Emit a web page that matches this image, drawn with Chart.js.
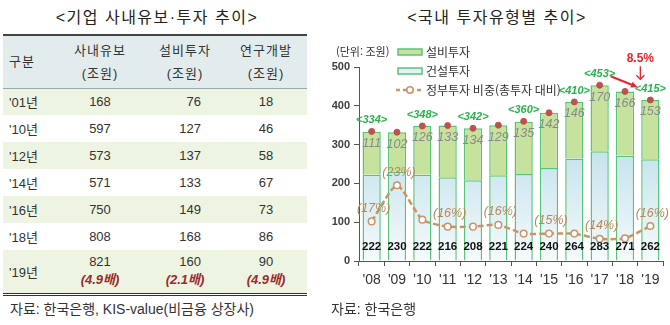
<!DOCTYPE html>
<html lang="ko">
<head>
<meta charset="utf-8">
<script src="https://cdn.jsdelivr.net/npm/chart.js@4.4.1/dist/chart.umd.min.js"></script>
<style>
  body { margin:0; width:670px; height:325px; background:#fff; position:relative; overflow:hidden;
         font-family:"Liberation Sans","Noto Sans CJK KR",sans-serif; color:#333; }
  .title { position:absolute; top:4px; font-size:16px; letter-spacing:1.5px; color:#222; text-align:center; white-space:nowrap; }
  .src { position:absolute; top:298px; font-size:14px; color:#333; white-space:nowrap; }
  #tbl { position:absolute; left:3px; top:34px; width:304px; border-collapse:collapse; font-size:13px; color:#333;
         border-top:2px solid #444; border-bottom:3px double #333; table-layout:fixed; }
  #tbl td { padding:0; text-align:center; }
  #tbl td.yr { text-align:left; padding-left:6px; }
  #tbl tr { height:27px; }
  #tbl tr.hd { height:53px; background:#e3ecec; border-bottom:1px solid #9aa; }
  #tbl tr.hd td { line-height:23px; letter-spacing:1px; }
  #tbl tr.g { background:#eef4e2; }
  #tbl tr.last { height:44px; }
  #tbl td.r { text-align:right; padding-right:24px; }
  .mult { color:#9e2a2e; font-weight:bold; font-style:italic; display:block; text-align:center; }
  #wrap { position:absolute; left:330px; top:30px; width:340px; height:275px; }
</style>
</head>
<body>
<div class="title" style="left:0; width:314px;">&lt;기업 사내유보·투자 추이&gt;</div>
<div class="title" style="left:330px; width:334px;">&lt;국내 투자유형별 추이&gt;</div>

<table id="tbl">
  <colgroup><col style="width:52px"><col style="width:90px"><col style="width:80px"><col style="width:82px"></colgroup>
  <tbody id="tbody"></tbody>
</table>
<div class="src" style="left:10px;">자료: 한국은행, KIS-value(비금융 상장사)</div>

<div id="wrap"><canvas id="chart" width="340" height="275"></canvas></div>
<div class="src" style="left:331px;">자료: 한국은행</div>

<script>
// left table data
const tableYears = ["'01년", "'10년", "'12년", "'14년", "'16년", "'18년", "'19년"];
const retained = [168, 597, 573, 571, 750, 808, 821];
const facilityInv = [76, 127, 137, 133, 149, 168, 160];
const rnd = [18, 46, 58, 67, 73, 86, 90];
const growth = ["(4.9배)", "(2.1배)", "(4.9배)"];

// right chart data
const years = ["'08", "'09", "'10", "'11", "'12", "'13", "'14", "'15", "'16", "'17", "'18", "'19"];
const construction = [222, 230, 222, 216, 208, 221, 224, 240, 264, 283, 271, 262];
const equipment = [111, 102, 126, 133, 134, 129, 135, 142, 146, 170, 166, 153];
const totals = [334, 332, 348, 349, 342, 350, 360, 382, 410, 453, 437, 415];
const totalShown = [true, false, true, false, true, false, true, false, true, true, false, true];
const govShare = [17.0, 23.2, 17.3, 16.1, 16.1, 16.4, 14.9, 14.9, 14.9, 14.0, 14.1, 16.2];
const govShown = [true, true, false, true, false, true, false, true, false, true, false, true];

// build table rows
const tbody = document.getElementById('tbody');
let html = '<tr class="hd"><td class="yr">구분</td><td>사내유보<br>(조원)</td><td>설비투자<br>(조원)</td><td>연구개발<br>(조원)</td></tr>';
tableYears.forEach((y, i) => {
  const cls = (i % 2 === 0 ? 'g' : '') + (i === tableYears.length - 1 ? ' last' : '');
  if (i === tableYears.length - 1) {
    html += `<tr class="${cls}"><td class="yr">${y}</td>` +
      `<td>${retained[i]}<span class="mult">${growth[0]}</span></td>` +
      `<td><span style="display:block;text-align:right;padding-right:24px">${facilityInv[i]}</span><span class="mult">${growth[1]}</span></td>` +
      `<td>${rnd[i]}<span class="mult">${growth[2]}</span></td></tr>`;
  } else {
    html += `<tr class="${cls}"><td class="yr">${y}</td><td>${retained[i]}</td><td class="r">${facilityInv[i]}</td><td>${rnd[i]}</td></tr>`;
  }
});
tbody.innerHTML = html;

const GREEN_EDGE = '#58c47a';
const TAN = '#c8956a';
const RED = '#e8262a';

// labels on bars and points
const labelPlugin = {
  id: 'barLabels',
  afterDatasetsDraw(chart) {
    const ctx = chart.ctx;
    const xs = chart.scales.x, ys = chart.scales.y;
    const govMeta = chart.getDatasetMeta(3);
    ctx.save();
    ctx.textAlign = 'center';
    ctx.textBaseline = 'middle';
    years.forEach((yr, i) => {
      const cx = xs.getPixelForValue(i);
      const top = ys.getPixelForValue(totals[i]);
      ctx.font = 'bold 11.5px "Liberation Sans"';
      ctx.fillStyle = '#111';
      ctx.fillText(construction[i], cx, ys.bottom - 14);
      ctx.font = 'italic 12.5px "Liberation Sans"';
      ctx.fillStyle = '#8a8a8a';
      ctx.fillText(equipment[i], cx, top + 12);
      if (totalShown[i]) {
        ctx.font = 'bold italic 11px "Liberation Sans"';
        ctx.fillStyle = '#27b34a';
        ctx.fillText('<' + totals[i] + '>', cx, top - 11);
      }
      if (govShown[i]) {
        const p = govMeta.data[i];
        ctx.font = 'italic 12.5px "Liberation Sans"';
        ctx.fillStyle = '#b8885a';
        ctx.fillText('(' + Math.round(govShare[i]) + '%)', p.x + 2, p.y - 13);
      }
    });
    ctx.restore();
  },
  afterDraw(chart) {
    const ctx = chart.ctx;
    const xs = chart.scales.x, ys = chart.scales.y;
    const ds = chart.data.datasets;
    ctx.save();
    // unit + legend
    ctx.textBaseline = 'middle';
    ctx.textAlign = 'left';
    ctx.fillStyle = '#333';
    ctx.font = '11px "Noto Sans CJK KR"';
    ctx.fillText('(단위: 조원)', 6, 22);
    ctx.font = '12px "Noto Sans CJK KR"';
    ctx.lineWidth = 1.5;
    ctx.strokeStyle = GREEN_EDGE;
    ctx.fillStyle = '#c6e29c';
    ctx.fillRect(68, 19, 24, 6); ctx.strokeRect(68, 19, 24, 6);
    ctx.fillStyle = '#e6f3f7';
    ctx.fillRect(68, 38, 24, 6); ctx.strokeRect(68, 38, 24, 6);
    ctx.strokeStyle = TAN; ctx.lineWidth = 2.5; ctx.setLineDash([4, 3]);
    ctx.beginPath(); ctx.moveTo(66, 60); ctx.lineTo(94, 60); ctx.stroke();
    ctx.setLineDash([]);
    ctx.lineWidth = 1.5; ctx.fillStyle = '#fff';
    ctx.beginPath(); ctx.arc(80, 60, 3.2, 0, Math.PI * 2); ctx.fill(); ctx.stroke();
    ctx.fillStyle = '#333';
    ctx.fillText(ds[1].label, 96, 22);
    ctx.fillText(ds[0].label, 96, 41);
    ctx.fillText(ds[3].label, 96, 60);

    // 8.5% annotation
    const x17 = xs.getPixelForValue(9), x19 = xs.getPixelForValue(11);
    const y17 = ys.getPixelForValue(totals[9]), y19 = ys.getPixelForValue(totals[11]);
    ctx.fillStyle = RED; ctx.strokeStyle = RED;
    ctx.font = 'bold 12px "Liberation Sans"';
    ctx.textAlign = 'center';
    ctx.fillText('8.5%', x19 - 10, y17 - 27);
    const arrow = (x1, y1, x2, y2) => {
      const a = Math.atan2(y2 - y1, x2 - x1);
      ctx.lineWidth = 2;
      ctx.beginPath(); ctx.moveTo(x1, y1); ctx.lineTo(x2 - 4 * Math.cos(a), y2 - 4 * Math.sin(a)); ctx.stroke();
      ctx.beginPath();
      ctx.moveTo(x2, y2);
      ctx.lineTo(x2 - 7 * Math.cos(a - 0.45), y2 - 7 * Math.sin(a - 0.45));
      ctx.lineTo(x2 - 7 * Math.cos(a + 0.45), y2 - 7 * Math.sin(a + 0.45));
      ctx.closePath(); ctx.fill();
    };
    arrow(x17 + 11, y17 - 9, x19 - 13, y19 - 13);
    ctx.lineWidth = 1.3;
    ctx.beginPath(); ctx.moveTo(x19 - 10, y17 - 19); ctx.lineTo(x19 - 10, y17 - 6); ctx.stroke();
    ctx.beginPath(); ctx.moveTo(x19 - 14, y17 - 10); ctx.lineTo(x19 - 10, y17 - 6); ctx.lineTo(x19 - 6, y17 - 10); ctx.stroke();
    ctx.restore();
  }
};

new Chart(document.getElementById('chart').getContext('2d'), {
  type: 'bar',
  data: {
    labels: years,
    datasets: [
      {
        label: '건설투자',
        data: construction,
        stack: 's',
        order: 2,
        backgroundColor: (c) => {
          const a = c.chart.chartArea;
          if (!a) return '#dcedf3';
          const g = c.chart.ctx.createLinearGradient(0, c.chart.scales.y.getPixelForValue(280), 0, a.bottom);
          g.addColorStop(0, '#c6e3ed');
          g.addColorStop(1, '#f5fafc');
          return g;
        },
        borderColor: GREEN_EDGE,
        borderWidth: 1.5,
        categoryPercentage: 1,
        barPercentage: 0.72
      },
      {
        label: '설비투자',
        data: equipment,
        stack: 's',
        order: 3,
        backgroundColor: '#c6e29c',
        borderColor: GREEN_EDGE,
        borderWidth: 1.5,
        categoryPercentage: 1,
        barPercentage: 0.72
      },
      {
        type: 'line',
        label: '총투자',
        data: totals,
        stack: 'tot',
        order: 1,
        showLine: false,
        pointRadius: 3,
        pointBackgroundColor: '#c0504d',
        pointBorderColor: '#c0504d'
      },
      {
        type: 'line',
        label: '정부투자 비중(총투자 대비)',
        data: govShare,
        yAxisID: 'y2',
        order: 0,
        borderColor: TAN,
        borderWidth: 2.5,
        borderDash: [6, 3],
        tension: 0.2,
        pointRadius: 3.3,
        pointBackgroundColor: '#fff',
        pointBorderColor: TAN,
        pointBorderWidth: 1.5
      }
    ]
  },
  options: {
    responsive: false,
    animation: false,
    layout: { padding: { top: 37, right: 7, left: 0, bottom: 0 } },
    plugins: { legend: { display: false }, tooltip: { enabled: false } },
    scales: {
      x: {
        stacked: true,
        grid: { drawOnChartArea: false, tickLength: 5, color: '#555' },
        border: { color: '#555' },
        ticks: { color: '#333', font: { family: 'Liberation Sans', size: 14 }, padding: 6 },
        afterFit: (s) => { s.height = 44; }
      },
      y: {
        stacked: true,
        min: 0,
        max: 500,
        grid: { drawOnChartArea: false, tickLength: 5, color: '#555' },
        border: { color: '#555' },
        ticks: { stepSize: 100, color: '#404040', font: { family: 'Liberation Sans', size: 11, weight: 'bold' }, padding: 4 },
        afterFit: (s) => { s.width = 29; }
      },
      y2: { display: false, min: 10.2, max: 43.5 }
    }
  },
  plugins: [labelPlugin]
});
</script>
</body>
</html>
